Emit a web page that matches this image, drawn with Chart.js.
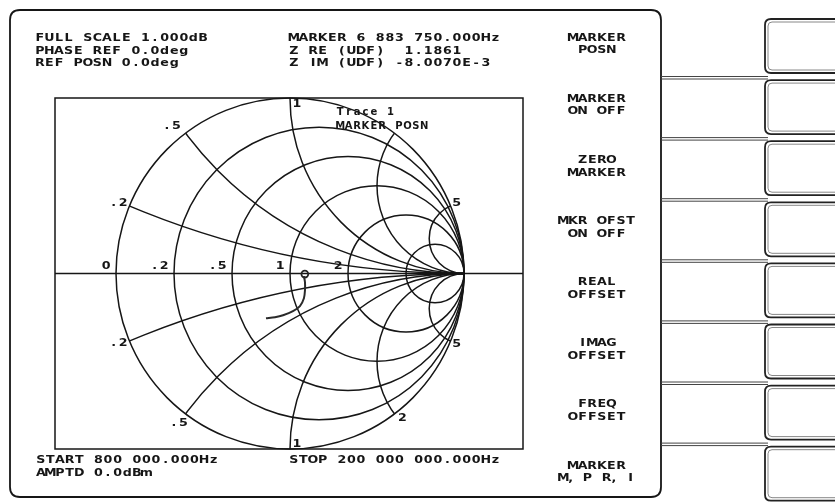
<!DOCTYPE html>
<html>
<head>
<meta charset="utf-8">
<script src="https://cdn.jsdelivr.net/npm/chart.js@4.4.1/dist/chart.umd.min.js"></script>
<style>
  html, body { margin: 0; padding: 0; background: #fff; }
  canvas { display: block; }
</style>
</head>
<body>
<canvas id="smith" width="835" height="502"></canvas>
<script>
// Smith chart grid values
var resistanceCircles = [0.2, 0.5, 1, 2, 5];
var reactanceArcs = [0.2, 0.5, 1, 2, 5];

// grid labels
var rLabelValues = [0, 0.2, 0.5, 1, 2];
var rLabelText = ['0', '.2', '.5', '1', '2'];
var xLabelValues = [0.2, 0.5, 1, 5, -0.2, -0.5, -1, -2, -5];
var xLabelText = ['.2', '.5', '1', '5', '.2', '.5', '1', '2', '5'];

var traceRe = [0.080, 0.086, 0.086, 0.080, 0.057, 0.017, -0.040, -0.086, -0.138];
var traceIm = [-0.015, -0.050, -0.095, -0.141, -0.186, -0.215, -0.238, -0.249, -0.255];

// marker impedance (normalised)
var markerRe = 1.1861;
var markerIm = -8.0070e-3;

// panel texts
var headerLeft = ['FULL SCALE 1.000dB', 'PHASE REF 0.0deg', 'REF POSN 0.0deg'];
var headerRight = ['MARKER 6 883 750.000Hz', 'Z RE (UDF)  1.1861', 'Z IM (UDF) -8.0070E-3'];
var footerLeft = ['START 800 000.000Hz', 'AMPTD 0.0dBm'];
var footerRight = ['STOP 200 000 000.000Hz'];
var traceTitle = ['Trace 1', 'MARKER POSN'];
var softKeys = [
  ['MARKER', 'POSN'],
  ['MARKER', 'ON OFF'],
  ['ZERO', 'MARKER'],
  ['MKR OFST', 'ON OFF'],
  ['REAL', 'OFFSET'],
  ['IMAG', 'OFFSET'],
  ['FREQ', 'OFFSET'],
  ['MARKER', 'M, P R, I']
];

// offsets of the reactance labels from their point on the rim (style only)
var xLabelOffsets = [[-11, -3], [-14, -7], [7, 6], [6, -3], [-11, 2], [-7, 9], [7, -5], [8, 4], [6, 3]];

var INK = '#161616';
var PITCH = 9.6;
var FONT = 'bold 11px "DejaVu Sans"';

function gamma(r, x) {
  // (z - 1) / (z + 1)
  var a = r - 1, b = x, c = r + 1, d = x;
  var den = c * c + d * d;
  return [(a * c + b * d) / den, (b * c - a * d) / den];
}

// plotter style text: fixed pitch, slightly widened glyphs
function plotText(ctx, str, x, y, pitch, font, stretch) {
  var p = pitch || PITCH;
  var k = stretch || 1.15;
  ctx.font = font || FONT;
  ctx.textAlign = 'center';
  ctx.textBaseline = 'middle';
  var pos = x;
  for (var i = 0; i < str.length; i++) {
    var ch = str[i];
    var w = (ch === ',') ? p * 0.5 : p;
    if (ch !== ' ') {
      ctx.save();
      ctx.translate(pos + w / 2, y);
      ctx.scale(k, 1);
      ctx.fillText(ch, 0, 0);
      ctx.restore();
    }
    pos += w;
  }
  return pos - x;
}

function textWidth(str, pitch) {
  var p = pitch || PITCH;
  var w = 0;
  for (var i = 0; i < str.length; i++) w += (str[i] === ',') ? p * 0.5 : p;
  return w;
}

function roundRect(ctx, x, y, w, h, r) {
  ctx.beginPath();
  ctx.moveTo(x + r, y);
  ctx.lineTo(x + w - r, y);
  ctx.quadraticCurveTo(x + w, y, x + w, y + r);
  ctx.lineTo(x + w, y + h - r);
  ctx.quadraticCurveTo(x + w, y + h, x + w - r, y + h);
  ctx.lineTo(x + r, y + h);
  ctx.quadraticCurveTo(x, y + h, x, y + h - r);
  ctx.lineTo(x, y + r);
  ctx.quadraticCurveTo(x, y, x + r, y);
  ctx.closePath();
}

var smithGrid = {
  id: 'smithGrid',
  beforeDatasetsDraw: function (chart) {
    var ctx = chart.ctx, area = chart.chartArea;
    var xs = chart.scales.x, ys = chart.scales.y;
    var px = function (v) { return xs.getPixelForValue(v); };
    var py = function (v) { return ys.getPixelForValue(v); };
    var sx = px(1) - px(0), sy = py(0) - py(1);

    ctx.save();
    ctx.strokeStyle = INK;
    ctx.lineWidth = 1.5;

    ctx.strokeRect(area.left, area.top, area.right - area.left, area.bottom - area.top);

    ctx.beginPath();
    ctx.moveTo(area.left, py(0));
    ctx.lineTo(area.right, py(0));
    ctx.stroke();

    ctx.beginPath();
    ctx.ellipse(px(0), py(0), sx, sy, 0, 0, Math.PI * 2);
    ctx.stroke();

    resistanceCircles.forEach(function (r) {
      var c = r / (1 + r), rad = 1 / (1 + r);
      ctx.beginPath();
      ctx.ellipse(px(c), py(0), rad * sx, rad * sy, 0, 0, Math.PI * 2);
      ctx.stroke();
    });

    ctx.save();
    ctx.beginPath();
    ctx.ellipse(px(0), py(0), sx, sy, 0, 0, Math.PI * 2);
    ctx.clip();
    reactanceArcs.forEach(function (x) {
      [1, -1].forEach(function (s) {
        ctx.beginPath();
        ctx.ellipse(px(1), py(s / x), sx / x, sy / x, 0, 0, Math.PI * 2);
        ctx.stroke();
      });
    });
    ctx.restore();

    // grid labels
    ctx.fillStyle = INK;
    rLabelValues.forEach(function (r, i) {
      var g = gamma(r, 0);
      var t = rLabelText[i];
      plotText(ctx, t, px(g[0]) - 5 - textWidth(t), py(0) - 7);
    });
    xLabelValues.forEach(function (x, i) {
      var g = gamma(0, x);
      var t = xLabelText[i];
      var o = xLabelOffsets[i];
      plotText(ctx, t, px(g[0]) + o[0] - textWidth(t) / 2, py(g[1]) + o[1]);
    });
    ctx.restore();
  }
};

var panel = {
  id: 'panel',
  afterDraw: function (chart) {
    var ctx = chart.ctx;
    ctx.save();
    ctx.strokeStyle = INK;
    ctx.fillStyle = INK;

    // instrument screen frame
    ctx.lineWidth = 1.8;
    roundRect(ctx, 10, 10, 651, 487, 10);
    ctx.stroke();

    headerLeft.forEach(function (t, i) { plotText(ctx, t, 35, 38.5 + i * 12.5); });
    headerRight.forEach(function (t, i) { plotText(ctx, t, 289, 38.5 + i * 12.5); });
    footerLeft.forEach(function (t, i) { plotText(ctx, t, 36, 460 + i * 13); });
    footerRight.forEach(function (t, i) { plotText(ctx, t, 289, 460 + i * 13); });
    traceTitle.forEach(function (t, i) { plotText(ctx, t, 336, 112 + i * 14, 8.4, 'bold 10px "DejaVu Sans"', 1); });

    softKeys.forEach(function (pair, i) {
      var y = 38 + i * 61.1;
      pair.forEach(function (t, j) {
        plotText(ctx, t, 597 - textWidth(t) / 2, y + j * 12.5);
      });
    });

    // connector lines to the soft keys
    ctx.strokeStyle = '#444';
    ctx.lineWidth = 1;
    for (var k = 0; k < 7; k++) {
      var ly = 76.5 + k * 61.1;
      ctx.beginPath();
      ctx.moveTo(661, ly); ctx.lineTo(768, ly);
      ctx.moveTo(661, ly + 2.5); ctx.lineTo(768, ly + 2.5);
      ctx.stroke();
    }

    // soft key boxes
    for (var b = 0; b < 8; b++) {
      var by = 19 + b * 61.1;
      ctx.strokeStyle = '#222';
      ctx.lineWidth = 1.8;
      roundRect(ctx, 765, by, 90, 54, 6);
      ctx.stroke();
      ctx.strokeStyle = '#888';
      ctx.lineWidth = 1;
      roundRect(ctx, 768, by + 3, 90, 48, 4);
      ctx.stroke();
    }
    ctx.restore();
  }
};

var tracePoints = traceRe.map(function (re, i) { return { x: re, y: traceIm[i] }; });
var mg = gamma(markerRe, markerIm);

var ctx = document.getElementById('smith').getContext('2d');
var chart = new Chart(ctx, {
  type: 'scatter',
  data: {
    datasets: [{
      label: 'Trace 1',
      data: tracePoints,
      showLine: true,
      borderColor: '#2a2a2a',
      borderWidth: 2,
      pointRadius: 0,
      tension: 0.3
    }, {
      label: 'Marker',
      data: [{ x: mg[0], y: mg[1] }],
      pointRadius: 3.4,
      pointBorderWidth: 1.8,
      pointBorderColor: '#222',
      pointBackgroundColor: 'rgba(0,0,0,0)'
    }]
  },
  options: {
    responsive: false,
    animation: false,
    layout: { padding: { left: 55, right: 312, top: 98, bottom: 53 } },
    scales: {
      x: { type: 'linear', min: -1.3506, max: 1.339, display: false },
      y: { type: 'linear', min: -1, max: 1, display: false }
    },
    plugins: {
      legend: { display: false },
      tooltip: { enabled: false }
    }
  },
  plugins: [smithGrid, panel]
});
</script>
</body>
</html>
